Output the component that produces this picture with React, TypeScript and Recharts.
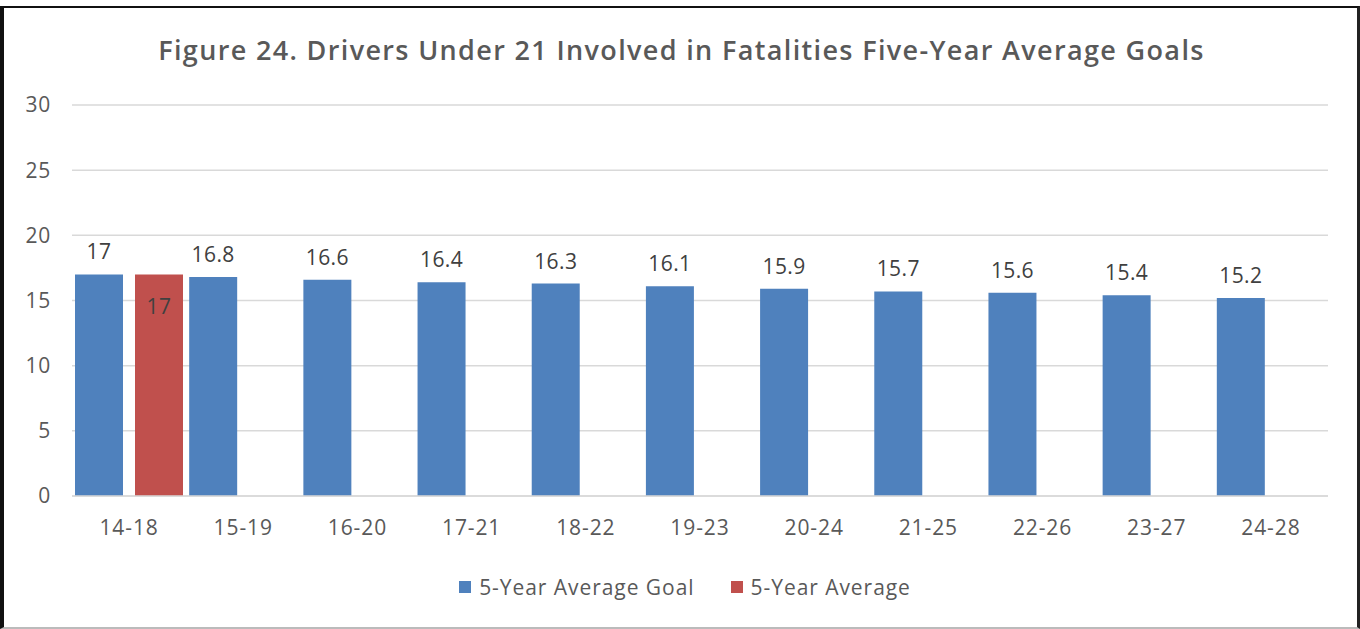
import React from 'react';
import { BarChart, Bar, XAxis, YAxis, CartesianGrid, Legend, LabelList } from 'recharts';

const categories = ['14-18', '15-19', '16-20', '17-21', '18-22', '19-23', '20-24', '21-25', '22-26', '23-27', '24-28'];
const goalValues = [17, 16.8, 16.6, 16.4, 16.3, 16.1, 15.9, 15.7, 15.6, 15.4, 15.2];
const averageValues: (number | null)[] = [17, null, null, null, null, null, null, null, null, null, null];
const yTicks = [0, 5, 10, 15, 20, 25, 30];

const data = categories.map((c, i) => ({ period: c, goal: goalValues[i], average: averageValues[i] }));

const FONT = '"Open Sans", sans-serif';
const BLUE = '#4F81BD';
const RED = '#C0504D';
const TEXT = '#595959';

const LegendContent = () => (
  <div style={{ height: 30, display: 'flex', justifyContent: 'center', alignItems: 'center', fontFamily: FONT, fontSize: 21, letterSpacing: 0.95, color: TEXT, paddingLeft: 42 }}>
    <span style={{ display: 'inline-block', width: 12, height: 12, background: BLUE, marginRight: 8 }} />
    <span style={{ marginRight: 36 }}>5-Year Average Goal</span>
    <span style={{ display: 'inline-block', width: 12, height: 12, background: RED, marginRight: 8 }} />
    <span>5-Year Average</span>
  </div>
);

export default function App() {
  return (
    <div style={{ position: 'absolute', left: 0, top: 0, width: 1360, height: 629, background: '#fff' }}>
      <div style={{ position: 'absolute', left: 0, top: 30, width: 1363, textAlign: 'center', fontFamily: FONT, fontWeight: 600, fontSize: 27, letterSpacing: 1.35, color: TEXT, lineHeight: '40px' }}>
        Figure 24. Drivers Under 21 Involved in Fatalities Five-Year Average Goals
      </div>
      <BarChart
        width={1360}
        height={629}
        data={data}
        margin={{ top: 105, right: 32, bottom: 27, left: 0 }}
        barCategoryGap={3}
        barGap={12}
      >
        <CartesianGrid vertical={false} stroke="#d9d9d9" strokeWidth={1.5} />
        <XAxis
          dataKey="period"
          height={76}
          tickLine={false}
          axisLine={{ stroke: '#d9d9d9', strokeWidth: 1.5 }}
          tickMargin={18}
          tick={{ fill: TEXT, fontSize: 21, fontFamily: FONT, letterSpacing: 0.9 }}
          interval={0}
        />
        <YAxis
          width={72}
          domain={[0, 30]}
          ticks={yTicks}
          tickLine={false}
          axisLine={false}
          tickMargin={15}
          tick={{ fill: TEXT, fontSize: 21, fontFamily: FONT, letterSpacing: 0.8 }}
        />
        <Legend verticalAlign="bottom" content={<LegendContent />} />
        <Bar dataKey="goal" name="5-Year Average Goal" fill={BLUE} isAnimationActive={false}>
          <LabelList dataKey="goal" position="top" offset={15} fill="#404040" fontSize={21} fontFamily={FONT} letterSpacing={0.4} />
        </Bar>
        <Bar dataKey="average" name="5-Year Average" fill={RED} isAnimationActive={false}>
          <LabelList dataKey="average" position="insideTop" offset={25} fill="#404040" fontSize={21} fontFamily={FONT} letterSpacing={0.4} />
        </Bar>
      </BarChart>
      <div style={{ position: 'absolute', left: 0, top: 6, width: 1360, height: 623, boxSizing: 'border-box', borderLeft: '4px solid #111', borderTop: '2px solid #111', borderRight: '3px solid #222', borderBottom: '2px solid #bbb', pointerEvents: 'none' }} />
    </div>
  );
}
